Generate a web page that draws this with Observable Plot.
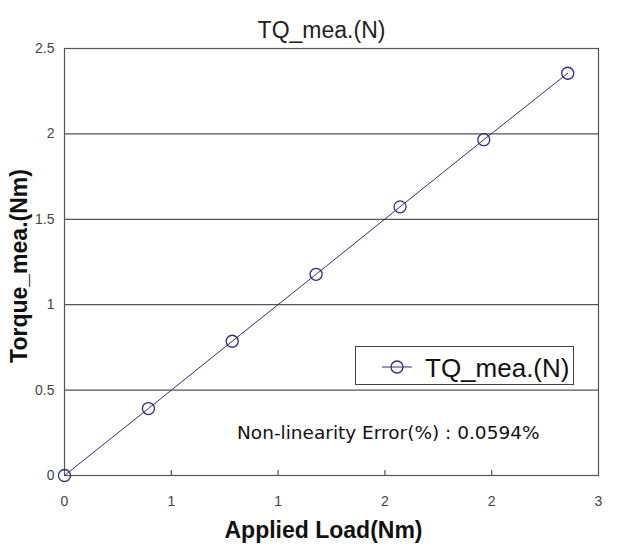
<!DOCTYPE html>
<html>
<head>
<meta charset="utf-8">
<script src="https://cdn.jsdelivr.net/npm/d3@7"></script>
<script src="https://cdn.jsdelivr.net/npm/@observablehq/plot@0.6"></script>
<style>
  html, body { margin: 0; padding: 0; background: #fff; }
  #wrap { position: relative; width: 620px; height: 552px; }
  #legend { position: absolute; left: 355px; top: 346px; width: 217px; height: 37px;
    border: 1px solid #444; background: #fff; }
  #legend svg { position: absolute; left: 0; top: 0; }
  #note { position: absolute; left: 237px; top: 422px; font-family: "DejaVu Sans", sans-serif;
    font-size: 18.5px; color: #111; white-space: nowrap; }
</style>
</head>
<body>
<div id="wrap"></div>
<script>
// ---- data ----
const appliedLoad = [0, 0.393, 0.785, 1.178, 1.571, 1.963, 2.356];
const torqueMea   = [0, 0.392, 0.786, 1.178, 1.573, 1.966, 2.355];
const xTicks = [0, 0.5, 1, 1.5, 2, 2.5];
const xTickLabels = ["0", "1", "1", "2", "2", "3"];
const yTicks = [0, 0.5, 1, 1.5, 2, 2.5];
const yTickLabels = ["0", "0.5", "1", "1.5", "2", "2.5"];
const seriesName = "TQ_mea.(N)";
const titleText = "TQ_mea.(N)";
const xLabel = "Applied Load(Nm)";
const yLabel = "Torque_mea.(Nm)";
const noteText = "Non-linearity Error(%) : 0.0594%";

const data = appliedLoad.map((x, i) => ({x, y: torqueMea[i]}));
const navy = "#2e2e82";
const font = "Liberation Sans, Arial, sans-serif";

const chart = Plot.plot({
  width: 620,
  height: 552,
  marginLeft: 64,
  marginRight: 22,
  marginTop: 48,
  marginBottom: 77,
  style: {fontFamily: font, background: "#fff"},
  x: {domain: [0, 2.5]},
  y: {domain: [0, 2.5]},
  marks: [
    Plot.gridY(yTicks.slice(1, -1), {stroke: "#555", strokeOpacity: 1, strokeWidth: 1.2}),
    Plot.frame({stroke: "#555", strokeWidth: 1.2}),
    Plot.ruleX(xTicks.slice(1, -1), {x: d => d, y1: () => 0, y2: () => 0, insetBottom: 5, stroke: "#555", strokeWidth: 1.2}),
    Plot.axisY(yTicks, {tickFormat: (d, i) => yTickLabels[i], tickSize: 0, tickPadding: 10, fontSize: 14, fill: "#444", label: null}),
    Plot.axisX(xTicks, {tickFormat: (d, i) => xTickLabels[i], tickSize: 0, tickPadding: 21, fontSize: 14, fill: "#444", label: null}),
    Plot.line(data, {x: "x", y: "y", stroke: navy, strokeWidth: 1}),
    Plot.dot(data, {x: "x", y: "y", r: 6, stroke: navy, strokeWidth: 1.3, fill: "none"}),
    Plot.text([titleText], {text: d => d, frameAnchor: "top", dx: -10, dy: -18, lineAnchor: "middle", fontSize: 23, fill: "#222"}),
    Plot.text([xLabel], {text: d => d, frameAnchor: "bottom", dx: -8, dy: 55, lineAnchor: "middle", fontSize: 23, fontWeight: "bold", fill: "#111"}),
    Plot.text([yLabel], {text: d => d, frameAnchor: "left", textAnchor: "middle", dx: -45, dy: 4, rotate: -90, lineAnchor: "middle", fontSize: 23, fontWeight: "bold", fill: "#111"})
  ]
});

const wrap = document.getElementById("wrap");
wrap.appendChild(chart);

// legend
const legend = document.createElement("div");
legend.id = "legend";
wrap.appendChild(legend);
const ls = d3.select(legend).append("svg").attr("width", 217).attr("height", 37);
ls.append("line").attr("x1", 26).attr("x2", 56).attr("y1", 20).attr("y2", 20).attr("stroke", navy).attr("stroke-width", 1);
ls.append("circle").attr("cx", 41).attr("cy", 20).attr("r", 6).attr("fill", "none").attr("stroke", navy).attr("stroke-width", 1.3);
ls.append("text").attr("x", 69).attr("y", 30).attr("font-family", font).attr("font-size", 26).attr("fill", "#111").text(seriesName);

// annotation
const note = document.createElement("div");
note.id = "note";
note.textContent = noteText;
wrap.appendChild(note);
</script>
</body>
</html>
